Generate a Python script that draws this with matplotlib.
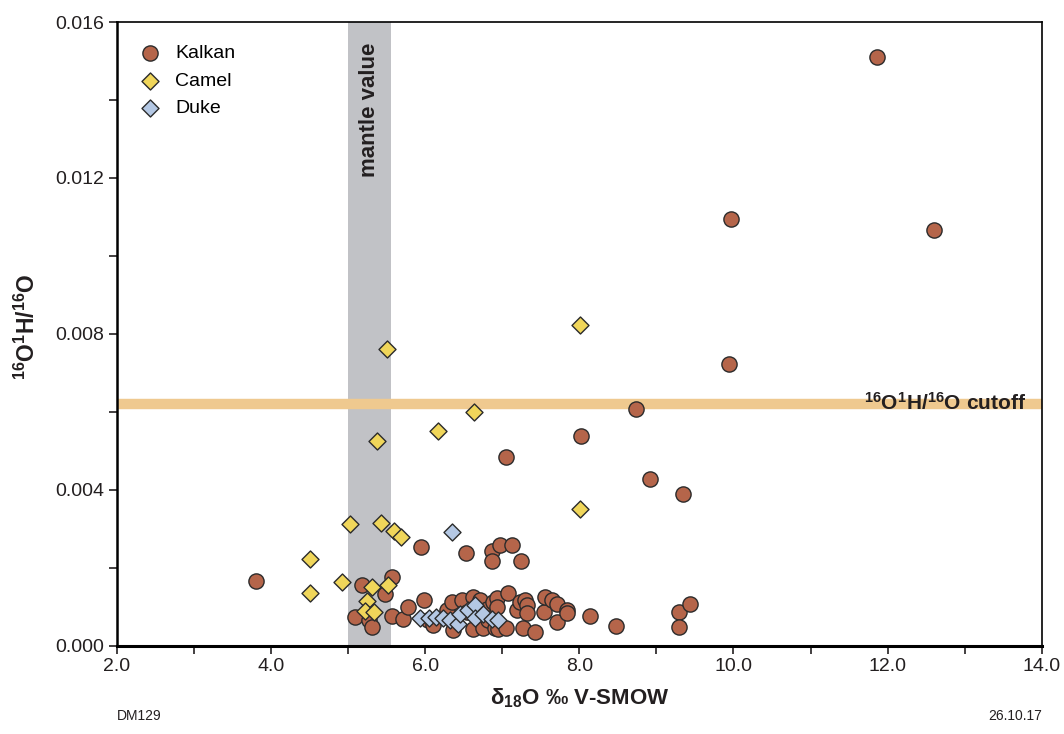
import numpy as np
import matplotlib
matplotlib.use("Agg")
from matplotlib import pyplot as plt
from matplotlib.ticker import MultipleLocator, FormatStrFormatter

## data (d18O, 16O1H/16O)
kalkan_x = [11.86, 9.97, 12.60, 9.94, 8.73, 8.02, 7.05, 8.92, 9.34,
            5.94, 6.53, 6.86, 6.97, 7.12, 6.86, 7.24,
            3.80, 5.57, 5.18, 5.48, 5.09, 5.27, 5.31, 5.57, 5.71,
            5.78, 5.98, 6.03, 6.10, 6.28, 6.35, 6.36, 6.48, 6.54, 6.62,
            6.62, 6.71, 6.75, 6.80, 6.81, 6.88, 6.88, 6.90, 6.93, 6.93,
            6.94, 7.05, 7.07, 7.19, 7.23, 7.29, 7.32, 7.32, 7.27, 7.42,
            7.54, 7.55, 7.64, 7.71, 7.71, 7.84, 7.84, 8.14, 8.47, 9.29,
            9.43, 9.29]
kalkan_y = [0.01510, 0.01095, 0.01067, 0.00723, 0.00608, 0.00538, 0.00485, 0.00428, 0.00390,
            0.00254, 0.00238, 0.00244, 0.00258, 0.00258, 0.00219, 0.00218,
            0.00167, 0.00177, 0.00156, 0.00134, 0.00074, 0.00067, 0.00049, 0.00078, 0.00069,
            0.00100, 0.00118, 0.00067, 0.00054, 0.00092, 0.00113, 0.00041, 0.00118, 0.00087, 0.00126,
            0.00043, 0.00118, 0.00046, 0.00095, 0.00067, 0.00113, 0.00074, 0.00046, 0.00124, 0.00100,
            0.00043, 0.00047, 0.00135, 0.00093, 0.00113, 0.00118, 0.00106, 0.00085, 0.00046, 0.00036,
            0.00088, 0.00125, 0.00118, 0.00108, 0.00061, 0.00092, 0.00085, 0.00078, 0.00051, 0.00087,
            0.00108, 0.00049]

camel_x = [8.01, 5.50, 6.63, 6.16, 5.37, 8.01, 5.02, 5.42, 5.59, 5.68,
           4.51, 4.92, 4.51, 5.31, 5.52, 5.25, 5.22, 5.33]
camel_y = [0.00823, 0.00762, 0.00600, 0.00551, 0.00526, 0.00351, 0.00313, 0.00315, 0.00295, 0.00280,
           0.00223, 0.00163, 0.00136, 0.00150, 0.00156, 0.00115, 0.00089, 0.00088]

duke_x = [6.35, 5.93, 6.05, 6.14, 6.23, 6.32, 6.42, 6.45, 6.56, 6.64, 6.64, 6.75, 6.86, 6.95]
duke_y = [0.00292, 0.00072, 0.00072, 0.00074, 0.00072, 0.00067, 0.00055, 0.00082, 0.00092,
          0.00104, 0.00071, 0.00082, 0.00069, 0.00067]

mantle = (5.0, 5.56)
cutoff = 0.0062

plt.rcParams['font.family'] = ['Liberation Sans', 'DejaVu Sans']
plt.rcParams['mathtext.fontset'] = 'custom'
plt.rcParams['mathtext.rm'] = 'Liberation Sans'
plt.rcParams['mathtext.bf'] = 'Liberation Sans:bold'
plt.rcParams['mathtext.it'] = 'Liberation Sans:italic'
edge = "#2b2b2b"
ink = "#231f20"

fig = plt.figure(figsize=(10.64, 7.34), dpi=100)
ax = fig.add_axes([0.110, 0.120, 0.869, 0.850])

ax.axvspan(mantle[0], mantle[1], color="#c1c2c6", lw=0, zorder=0)
ax.axhline(cutoff, color="#efc98f", lw=7.5, zorder=1)

ax.scatter(kalkan_x, kalkan_y, s=120, marker="o", c="#b5654a", edgecolors=edge,
           linewidths=1.0, zorder=3, label="Kalkan")
ax.scatter(camel_x, camel_y, s=75, marker="D", c="#f0d65a", edgecolors=edge,
           linewidths=1.0, zorder=4, label="Camel")
ax.scatter(duke_x, duke_y, s=75, marker="D", c="#b4c8e4", edgecolors=edge,
           linewidths=1.0, zorder=5, label="Duke")

ax.text(np.mean(mantle), 0.01375, "mantle value", rotation=90, ha="center", va="center",
        fontsize=16, fontweight="bold", color=ink, zorder=2)
ax.text(13.8, cutoff + 0.00003, "$\\mathbf{^{16}}$O$\\mathbf{^{1}}$H/$\\mathbf{^{16}}$O cutoff",
        ha="right", va="center", fontsize=15, fontweight="bold", color=ink, zorder=2)

ax.set_xlim(2.0, 14.0)
ax.set_ylim(0.0, 0.016)
ax.xaxis.set_major_locator(MultipleLocator(2.0))
ax.xaxis.set_minor_locator(MultipleLocator(1.0))
ax.yaxis.set_major_locator(MultipleLocator(0.004))
ax.yaxis.set_minor_locator(MultipleLocator(0.002))
ax.xaxis.set_major_formatter(FormatStrFormatter("%.1f"))
ax.yaxis.set_major_formatter(FormatStrFormatter("%.3f"))
ax.tick_params(which="both", direction="out", length=6, width=1.2, colors=ink,
               labelsize=14, pad=3)

ax.spines["left"].set_linewidth(1.8)
ax.spines["bottom"].set_linewidth(2.2)
ax.spines["top"].set_linewidth(1.2)
ax.spines["right"].set_linewidth(1.2)

ax.set_xlabel("δ$\\mathbf{_{18}}$O ‰ V-SMOW", fontsize=16, fontweight="bold",
              color=ink, labelpad=8)
ax.set_ylabel("$\\mathbf{^{16}}$O$\\mathbf{^{1}}$H/$\\mathbf{^{16}}$O", fontsize=16.5,
              fontweight="bold", color=ink)
ax.yaxis.set_label_coords(-0.083, 0.511)

ax.legend(loc="upper left", frameon=False, fontsize=14, handlelength=1.5, handletextpad=0.54,
          labelspacing=0.5, borderaxespad=0.0, scatterpoints=1, bbox_to_anchor=(0.0115, 0.976))

fig.text(0.110, 0.025, "DM129", fontsize=10, va="center", color=ink)
fig.text(0.979, 0.025, "26.10.17", fontsize=10, ha="right", va="center", color=ink)

fig.savefig("out.png", dpi=100)
